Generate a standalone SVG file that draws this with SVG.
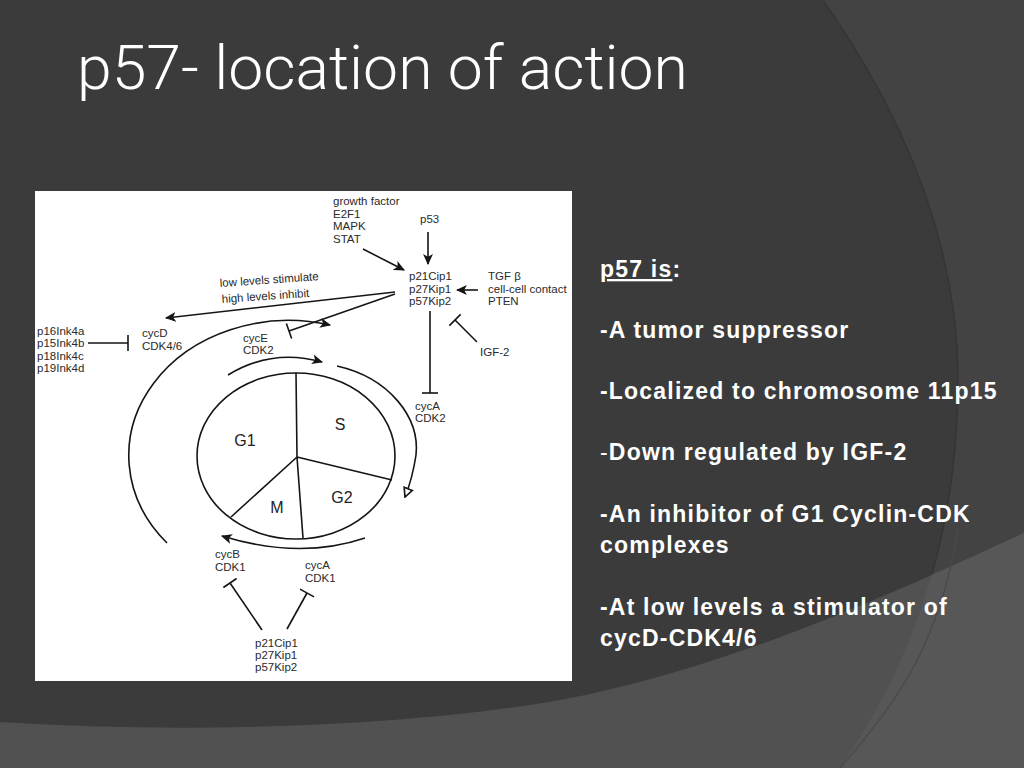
<svg xmlns="http://www.w3.org/2000/svg" width="1024" height="768" viewBox="0 0 1024 768">
<style>
.t{font-family:"Liberation Sans",Arial,sans-serif;font-size:11.5px;fill:#2a2a2a}
.ph{font-family:"Liberation Sans",Arial,sans-serif;font-size:16px;fill:#222}
.ln{stroke:#151515;stroke-width:1.6;fill:none}
.b{font-family:"Liberation Sans",Arial,sans-serif;font-size:23px;font-weight:bold;fill:#ffffff;letter-spacing:1.2px}
</style>
<defs>
<path id="rr" d="M823,0 C900,110 958,240 958,380 C958,530 915,660 840,768 L1024,768 L1024,0 Z"/>
<clipPath id="rc"><use href="#rr"/></clipPath>
<marker id="arr" viewBox="0 0 10 10" refX="9" refY="5" markerWidth="11" markerHeight="11" markerUnits="userSpaceOnUse" orient="auto"><path d="M0,0.5 L10,5 L0,9.5 L2.5,5 Z" fill="#151515"/></marker>
<marker id="open" viewBox="0 0 10 10" refX="9" refY="5" markerWidth="11" markerHeight="11" markerUnits="userSpaceOnUse" orient="auto"><path d="M1,1 L9,5 L1,9 Z" fill="#fff" stroke="#151515" stroke-width="1.5"/></marker>
<marker id="tb" viewBox="-2 -10 4 20" refX="0" refY="0" markerWidth="4" markerHeight="20" markerUnits="userSpaceOnUse" orient="auto"><line x1="0" y1="-8" x2="0" y2="8" stroke="#151515" stroke-width="1.6"/></marker>
</defs>
<g id="background">
<rect width="1024" height="768" fill="#3b3b3b"/>
<use href="#rr" fill="#434343"/>
<path d="M823,0 C900,110 958,240 958,380 C958,530 915,660 840,768" fill="none" stroke="#353535" stroke-width="1.5"/>
<path d="M0,722 C200,735 420,725 560,700 C720,670 880,600 1024,533 L1024,768 L0,768 Z" fill="#515151"/>
<path d="M0,722 C200,735 420,725 560,700 C720,670 880,600 1024,533 L1024,768 L0,768 Z" fill="#575757" clip-path="url(#rc)"/>
<path d="M958,530 C940,640 900,700 840,768" fill="none" stroke="#4a4a4a" stroke-width="1.5"/>
</g>
<g id="title"><text x="77" y="89" font-family="'Liberation Sans Narrow',Roboto,'Liberation Sans',sans-serif" font-weight="300" font-size="61" fill="#ffffff" textLength="611" lengthAdjust="spacingAndGlyphs">p57- location of action</text></g>
<g id="figure">
<rect x="35" y="191" width="537" height="490" fill="#ffffff"/>
</g>
<g id="cycle">
<ellipse cx="296" cy="456" rx="99" ry="83" class="ln"/>
<path d="M297,457 L296,373 M297,457 L392,480 M297,457 L303,538 M297,457 L231,517" class="ln"/>
<text class="ph" x="340" y="430" text-anchor="middle">S</text>
<text class="ph" x="245" y="446" text-anchor="middle">G1</text>
<text class="ph" x="342" y="503" text-anchor="middle">G2</text>
<text class="ph" x="277" y="513" text-anchor="middle">M</text>
</g>
<g id="n-growth"><text class="t" x="333" y="205">growth factor</text><text class="t" x="333" y="217.5">E2F1</text><text class="t" x="333" y="230">MAPK</text><text class="t" x="333" y="242.5">STAT</text></g>
<g id="n-p53"><text class="t" x="420" y="223">p53</text></g>
<g id="n-cki"><text class="t" x="409" y="280">p21Cip1</text><text class="t" x="409" y="292.5">p27Kip1</text><text class="t" x="409" y="305">p57Kip2</text></g>
<g id="n-tgf"><text class="t" x="488" y="280">TGF β</text><text class="t" x="488" y="292.5">cell-cell contact</text><text class="t" x="488" y="305">PTEN</text></g>
<g id="n-levels"><text class="t" transform="rotate(-4 220 287)" x="220" y="287">low levels stimulate</text><text class="t" transform="rotate(-4 222 303)" x="222" y="303">high levels inhibit</text></g>
<g id="n-ink"><text class="t" x="37" y="335">p16Ink4a</text><text class="t" x="37" y="347">p15Ink4b</text><text class="t" x="37" y="360">p18Ink4c</text><text class="t" x="37" y="372">p19Ink4d</text></g>
<g id="n-cycD"><text class="t" x="142" y="337">cycD</text><text class="t" x="142" y="350">CDK4/6</text></g>
<g id="n-cycE"><text class="t" x="243" y="342">cycE</text><text class="t" x="243" y="354">CDK2</text></g>
<g id="n-igf"><text class="t" x="480" y="356">IGF-2</text></g>
<g id="n-cycA2"><text class="t" x="415" y="410">cycA</text><text class="t" x="415" y="422">CDK2</text></g>
<g id="n-cycB"><text class="t" x="215" y="558">cycB</text><text class="t" x="215" y="571">CDK1</text></g>
<g id="n-cycA1"><text class="t" x="305" y="569">cycA</text><text class="t" x="305" y="582">CDK1</text></g>
<g id="n-cki2"><text class="t" x="255" y="647">p21Cip1</text><text class="t" x="255" y="659">p27Kip1</text><text class="t" x="255" y="671">p57Kip2</text></g>
<g id="connectors">
<path class="ln" d="M428,232 L428,264" marker-end="url(#arr)"/>
<path class="ln" d="M363,249 L404,270" marker-end="url(#arr)"/>
<path class="ln" d="M478,290 L457,290" marker-end="url(#arr)"/>
<path class="ln" d="M395,292 L166,318" marker-end="url(#arr)"/>
<path class="ln" d="M395,294 L289,331" marker-end="url(#tb)"/>
<path class="ln" d="M88,343 L128,343" marker-end="url(#tb)"/>
<path class="ln" d="M430,311 L430,393" marker-end="url(#tb)"/>
<path class="ln" d="M477,342 L455,320" marker-end="url(#tb)"/>
<path class="ln" d="M262,630 L230,583" marker-end="url(#tb)"/>
<path class="ln" d="M287,629 L307,593" marker-end="url(#tb)"/>
<path class="ln" d="M228,375 Q272,348 322,362" marker-end="url(#arr)"/>
<path class="ln" d="M167,543 A160,135 0 0 1 330,325" marker-end="url(#arr)"/>
<path class="ln" d="M337,366 C390,378 420,418 416,455 C413,475 409,487 405,497" marker-end="url(#open)"/>
<path class="ln" d="M365,538 Q300,560 222,536" marker-end="url(#arr)"/>
</g>
<g id="bullets">
<text class="b" x="600" y="277"><tspan text-decoration="underline">p57 is</tspan>:</text>
<text class="b" x="600" y="338">-A tumor suppressor</text>
<text class="b" x="600" y="399">-Localized to chromosome 11p15</text>
<text class="b" x="600" y="460"><tspan font-weight="normal">-</tspan>Down regulated by IGF-2</text>
<text class="b" x="600" y="522">-An inhibitor of G1 Cyclin-CDK</text>
<text class="b" x="600" y="553">complexes</text>
<text class="b" x="600" y="615">-At low levels a stimulator of</text>
<text class="b" x="600" y="646">cycD-CDK4/6</text>
</g>
</svg>
